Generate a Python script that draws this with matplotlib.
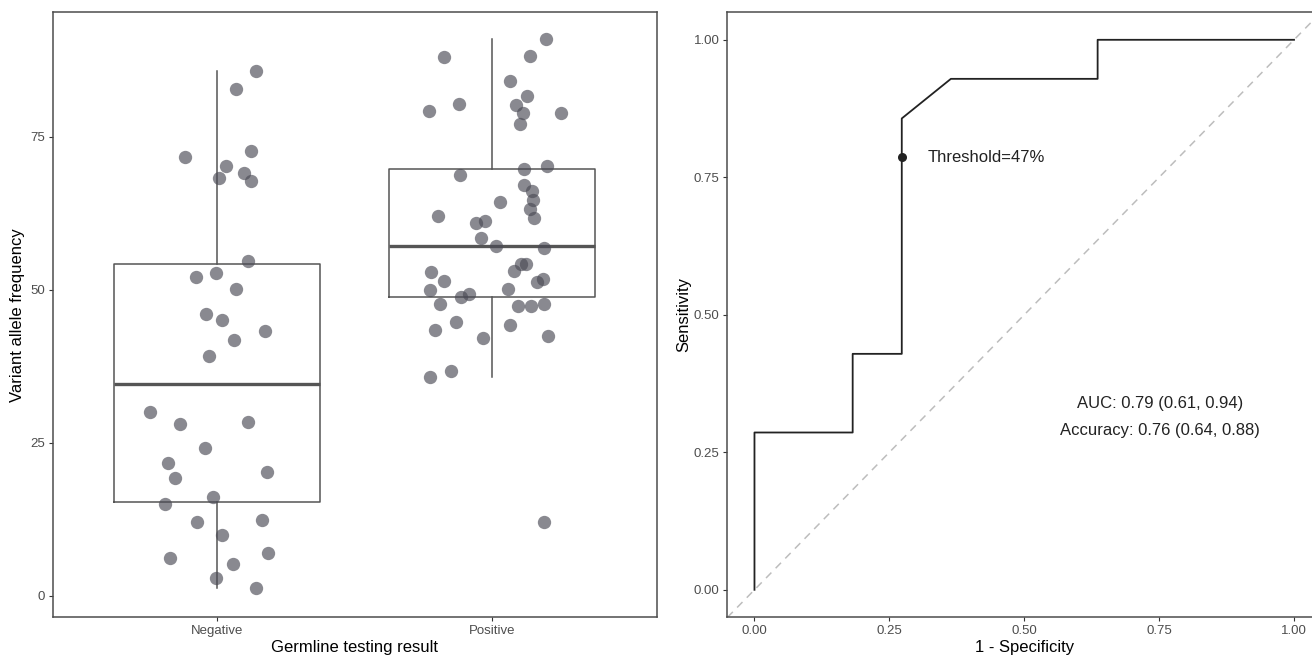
import numpy as np
import matplotlib
matplotlib.use("Agg")
import matplotlib.pyplot as plt

plt.rcParams['font.family'] = ['Liberation Sans', 'DejaVu Sans']

# Left panel: variant allele frequency by germline result (jittered points)
categories = ['Negative', 'Positive']

neg_vaf = [85.8, 82.8, 71.7, 72.7, 70.3, 69.1, 68.3, 67.8, 54.7, 52.1, 52.8, 50.2,
           46.1, 45.1, 43.3, 41.8, 39.2, 30.1, 28.1, 28.4, 24.2, 21.7, 19.3, 20.3,
           16.2, 15.0, 12.1, 12.4, 10.0, 6.2, 7.0, 5.2, 2.9, 1.3]
neg_jitter = [0.139, 0.069, -0.117, 0.124, 0.033, 0.095, 0.007, 0.124, 0.113, -0.077,
              -0.007, 0.069, -0.041, 0.018, 0.172, 0.061, -0.030, -0.246, -0.138, 0.112,
              -0.047, -0.179, -0.153, 0.179, -0.015, -0.191, -0.073, 0.163, 0.015,
              -0.173, 0.186, 0.058, -0.007, 0.139]

pos_vaf = [91.0, 88.0, 88.2, 84.2, 81.6, 79.3, 80.3, 80.2, 78.9, 78.9, 77.1, 69.7,
           70.2, 68.8, 67.2, 66.1, 64.7, 64.3, 63.2, 61.7, 62.1, 61.0, 61.2, 58.5,
           57.1, 56.9, 54.2, 54.2, 53.1, 52.9, 51.4, 51.3, 51.7, 49.9, 48.9, 49.3,
           50.1, 47.7, 47.3, 47.3, 47.7, 43.4, 44.8, 42.2, 44.3, 42.4, 35.8, 36.7, 12.1]
pos_jitter = [0.198, -0.174, 0.139, 0.065, 0.129, -0.230, -0.120, 0.088, 0.112, 0.252,
              0.103, 0.117, 0.202, -0.118, 0.117, 0.145, 0.151, 0.028, 0.139, 0.154,
              -0.198, -0.057, -0.024, -0.040, 0.016, 0.190, 0.106, 0.124, 0.079,
              -0.223, -0.174, 0.163, 0.187, -0.226, -0.113, -0.083, 0.059, -0.189,
              0.096, 0.141, 0.190, -0.207, -0.130, -0.032, 0.065, 0.205, -0.226,
              -0.149, 0.190]

# Right panel: ROC curve vertices
roc_fpr = [0.0, 0.0, 0.182, 0.182, 0.273, 0.273, 0.364, 0.636, 0.636, 1.0]
roc_tpr = [0.0, 0.286, 0.286, 0.429, 0.429, 0.857, 0.929, 0.929, 1.0, 1.0]
thr_fpr, thr_tpr = 0.273, 0.786
thr_label = 'Threshold=47%'
auc_label = 'AUC: 0.79 (0.61, 0.94)'
acc_label = 'Accuracy: 0.76 (0.64, 0.88)'

W, H = 1312, 659
fig = plt.figure(figsize=(W / 100, H / 100), dpi=100)

spine_col = '#4d4d4d'
tick_col = '#4d4d4d'


def style_axes(ax):
    for s in ax.spines.values():
        s.set_color(spine_col)
        s.set_linewidth(1.1)
    ax.tick_params(length=3.2, width=0.8, color='#333333', labelcolor=tick_col,
                   labelsize=9.5, pad=2.5)


# ---- left panel
ax1 = fig.add_axes([52.7 / W, 1 - 617.3 / H, 604 / W, 605 / H])
line_kw = dict(color='#555555', linewidth=1.1)
ax1.boxplot([neg_vaf, pos_vaf], positions=[1, 2], widths=0.75, showfliers=False,
            showcaps=False, whis=1.5, boxprops=line_kw, whiskerprops=line_kw,
            medianprops=dict(color='#555555', linewidth=2.4))
ax1.scatter(1 + np.array(neg_jitter), neg_vaf, s=92, color='#4a4a55', alpha=0.65,
            linewidths=0, zorder=3)
ax1.scatter(2 + np.array(pos_jitter), pos_vaf, s=92, color='#4a4a55', alpha=0.65,
            linewidths=0, zorder=3)
ax1.set_xlim(0.4, 2.6)
ax1.set_ylim(-3.53, 95.36)
ax1.set_xticks([1, 2])
ax1.set_xticklabels(categories)
ax1.set_yticks([0, 25, 50, 75])
style_axes(ax1)
ax1.set_xlabel('Germline testing result', fontsize=12)
ax1.set_ylabel('Variant allele frequency', fontsize=12)
ax1.xaxis.set_label_coords(0.5, -0.038)
ax1.yaxis.set_label_coords(-0.046, 0.5)

# ---- right panel
ax2 = fig.add_axes([727.5 / W, 1 - 617.3 / H, (1321 - 727.5) / W, 605 / H])
ax2.axline((0, 0), slope=1, color='#bdbdbd', linewidth=1.1, linestyle=(0, (5, 4)))
ax2.plot(roc_fpr, roc_tpr, color='#222222', linewidth=1.3)
ax2.scatter([thr_fpr], [thr_tpr], s=30, color='#222222', zorder=4)
ax2.text(0.32, thr_tpr, thr_label, fontsize=12, ha='left', va='center', color='#222222')
ax2.text(0.751, 0.339, auc_label, fontsize=12, ha='center', va='center', color='#222222')
ax2.text(0.751, 0.289, acc_label, fontsize=12, ha='center', va='center', color='#222222')
ax2.set_xlim(-0.05, 1.05)
ax2.set_ylim(-0.05, 1.05)
ticks = [0.0, 0.25, 0.5, 0.75, 1.0]
ax2.set_xticks(ticks)
ax2.set_yticks(ticks)
ax2.set_xticklabels([f'{t:.2f}' for t in ticks])
ax2.set_yticklabels([f'{t:.2f}' for t in ticks])
style_axes(ax2)
ax2.set_xlabel('1 - Specificity', fontsize=12)
ax2.set_ylabel('Sensitivity', fontsize=12)
ax2.xaxis.set_label_coords(0.5, -0.038)
ax2.yaxis.set_label_coords(-0.0615, 0.5)

fig.savefig('out.png', dpi=100)
